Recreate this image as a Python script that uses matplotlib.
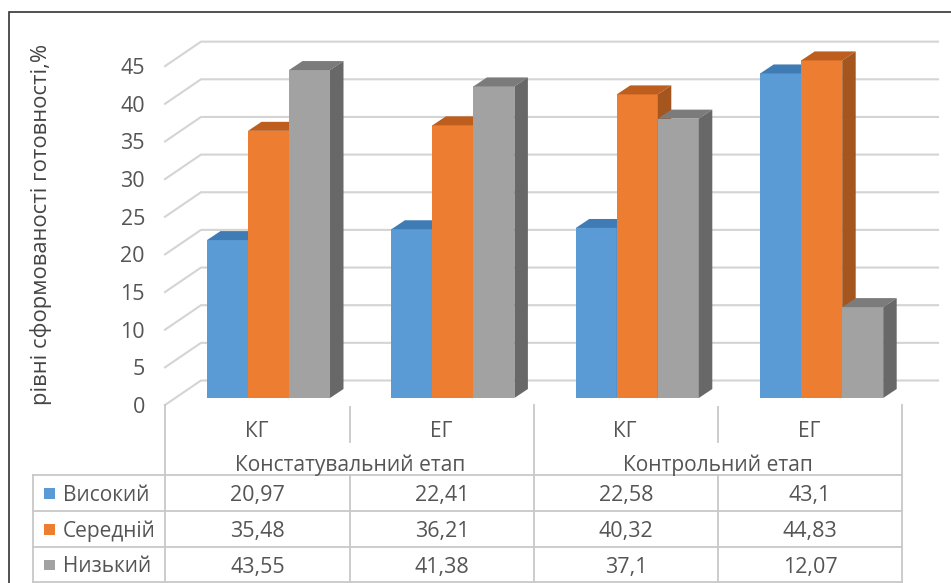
"""Рівні сформованості готовності: 3D-подібні стовпці з таблицею даних під ними."""
import matplotlib
matplotlib.use("Agg")
import matplotlib.pyplot as plt
from matplotlib.patches import Polygon, Rectangle

plt.rcParams["font.family"] = ["Open Sans", "DejaVu Sans"]

W, H = 951, 583
TEXT = "#555555"
GRID = "#d4d4d4"
TABLE = "#c8c8c8"

categories = ["КГ", "ЕГ", "КГ", "ЕГ"]
stages = ["Констатувальний етап", "Контрольний етап"]
series_names = ["Високий", "Середній", "Низький"]
vysokyi = [20.97, 22.41, 22.58, 43.1]
serednii = [35.48, 36.21, 40.32, 44.83]
nyzkyi = [43.55, 41.38, 37.1, 12.07]
y_ticks = [0, 5, 10, 15, 20, 25, 30, 35, 40, 45]

series = [vysokyi, serednii, nyzkyi]
front_colors = ["#5b9bd5", "#ed7d31", "#a2a2a2"]
top_colors = ["#3f7cb5", "#bd5d1e", "#7b7b7b"]
side_colors = ["#41719c", "#a5561f", "#686868"]

# масштаб: пікселів на одиницю по осях
PX_X = 184.4
PX_Y = 7.53
X0_PX = 268.5
Y0_PX = 398
BAR_W = 41 / PX_X
DEPTH_X = 13.5 / PX_X
DEPTH_Y = 9 / PX_Y

# площина стінок відносно фронту стовпців
FLOOR_L = (165 - X0_PX) / PX_X
FLOOR_R = (902 - X0_PX) / PX_X
WALL_DX = 36 / PX_X
FLOOR_DY = -7 / PX_Y
WALL_DY = 17.5 / PX_Y

fig = plt.figure(figsize=(W / 100, H / 100), dpi=100)
ax = fig.add_axes([0, 0, 1, 1])
ax.set_xlim(-X0_PX / PX_X, (W - X0_PX) / PX_X)
ax.set_ylim((Y0_PX - H) / PX_Y, Y0_PX / PX_Y)
ax.axis("off")

# сітка на задній стінці й бічна стінка
for t in y_ticks:
    ax.plot([FLOOR_L, FLOOR_L + WALL_DX, FLOOR_R + WALL_DX],
            [t + FLOOR_DY, t + WALL_DY, t + WALL_DY],
            color=GRID, lw=1.5, zorder=1, solid_joinstyle="miter")
    ax.text(FLOOR_L - 20 / PX_X, t + FLOOR_DY, str(t), ha="right", va="center_baseline",
            fontsize=15.5, color=TEXT)


def draw_bar(x, h, i):
    ax.add_patch(Rectangle((x, 0), BAR_W, h, fc=front_colors[i], ec="none", zorder=3))
    ax.add_patch(Polygon([(x, h), (x + DEPTH_X, h + DEPTH_Y),
                          (x + BAR_W + DEPTH_X, h + DEPTH_Y), (x + BAR_W, h)],
                         fc=top_colors[i], ec="none", zorder=3))
    ax.add_patch(Polygon([(x + BAR_W, 0), (x + BAR_W + DEPTH_X, DEPTH_Y),
                          (x + BAR_W + DEPTH_X, h + DEPTH_Y), (x + BAR_W, h)],
                         fc=side_colors[i], ec="none", zorder=3))


# стовпці малюються зліва направо, наступний перекриває бік попереднього
for c in range(len(categories)):
    for i, values in enumerate(series):
        draw_bar(c + (i - 1.5) * BAR_W, values[c], i)

# далі таблиця даних у піксельних координатах
tb = fig.add_axes([0, 0, 1, 1], facecolor="none")
tb.set_xlim(0, W)
tb.set_ylim(H, 0)
tb.axis("off")

col_x = [165, 350, 534, 718, 902]
row_y = [475, 511, 547, 582]

for y in row_y:
    tb.plot([33, 902], [y, y], color=TABLE, lw=1.3)
tb.plot([33, 33], [475, 582], color=TABLE, lw=1.3)
for x in (165, 534, 902):
    tb.plot([x, x], [405, 582], color=TABLE, lw=1.3)
for x in (350, 718):
    tb.plot([x, x], [407, 442], color=TABLE, lw=1.3)
    tb.plot([x, x], [475, 582], color=TABLE, lw=1.3)

for c, name in enumerate(categories):
    tb.text((col_x[c] + col_x[c + 1]) / 2 - 1, 429, name, ha="center", va="center_baseline",
            fontsize=15, color=TEXT)
# назва етапу стоїть над межею між його двома колонками
for s, name in enumerate(stages):
    tb.text(col_x[2 * s + 1], 463, name, ha="center", va="center_baseline",
            fontsize=15.1, color=TEXT)

for r, (name, values) in enumerate(zip(series_names, series)):
    yc = (row_y[r] + row_y[r + 1]) / 2
    tb.add_patch(Rectangle((44, yc - 5), 10.5, 10.5, fc=front_colors[r], ec="none"))
    tb.text(63, yc, name, ha="left", va="center_baseline", fontsize=15, color=TEXT)
    for c, v in enumerate(values):
        tb.text((col_x[c] + col_x[c + 1]) / 2, yc, str(v).replace(".", ","),
                ha="center", va="center_baseline", fontsize=15.5, color=TEXT)

tb.text(41, 224, "рівні сформованості готовності,%", rotation=90, ha="center",
        va="center", fontsize=15.8, color="#444444")

# зовнішня рамка: лише верх і лівий край
tb.plot([9, 9, W], [H, 12, 12], color="#333333", lw=1.2, solid_joinstyle="miter")

fig.savefig("out.png", dpi=100, facecolor="white")
